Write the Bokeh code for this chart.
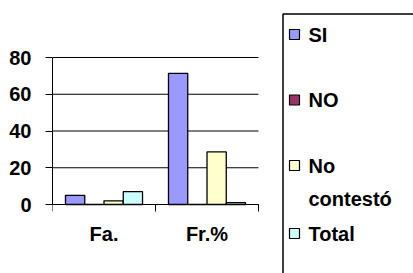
import numpy as np
from bokeh.plotting import figure
from bokeh.models import Range1d, FixedTicker
from bokeh.core.properties import value
from bokeh.embed import file_html
from bokeh.resources import INLINE

# ---- data ----
categories = ["Fa.", "Fr.%"]
series_names = ["SI", "NO", "No contestó", "Total"]
si_values = [5, 71.4]
no_values = [0, 0]
nc_values = [2, 28.6]
total_values = [7, 1]
series_colors = ["#9999FF", "#993366", "#FFFFCC", "#CCFFFF"]
y_ticks = [0, 20, 40, 60, 80]
y_max = 80

FONT = "Liberation Sans"
FS = "20px"

# ---- layout (pixels) ----
W, H = 413, 273
AX_L, AX_B = 52, 204          # y-axis x position, x-axis y position
CAT_PX = 103                  # pixels per category
PX_PER_UNIT = 147 / y_max     # vertical pixels per value unit
TOP = 11

def dx(px):
    return (px - AX_L) / CAT_PX

def dy(py):
    return (AX_B - py) / PX_PER_UNIT

p = figure(width=W, height=H, output_backend="svg", toolbar_location=None,
           x_range=Range1d(0, dx(W)), y_range=Range1d(dy(H), dy(TOP)),
           min_border_left=AX_L, min_border_right=0, min_border_top=TOP,
           min_border_bottom=0)
p.outline_line_color = None
p.grid.grid_line_color = None

n_cat = len(categories)
# horizontal grid lines limited to the category area
p.segment(x0=[0] * len(y_ticks), x1=[n_cat] * len(y_ticks), y0=y_ticks,
          y1=y_ticks, line_color="black", line_width=1)

all_values = [si_values, no_values, nc_values, total_values]
bw = 0.187
offsets = (np.arange(len(series_names)) - 1.5) * bw
base_x = np.arange(n_cat) + 0.5
for vals, col, off in zip(all_values, series_colors, offsets):
    p.vbar(x=base_x + off, top=vals, bottom=0, width=bw, fill_color=col,
           line_color="black", line_width=1.3)

# y axis
p.yaxis.ticker = FixedTicker(ticks=y_ticks)
p.yaxis.bounds = (0, y_max)
p.yaxis.major_tick_out = 7
p.yaxis.major_tick_in = 0
p.yaxis.minor_tick_line_color = None
p.yaxis.axis_line_color = "black"
p.yaxis.major_label_text_font = FONT
p.yaxis.major_label_text_font_style = "bold"
p.yaxis.major_label_text_font_size = FS
p.yaxis.major_label_text_color = "black"
p.yaxis.major_label_standoff = 14

# x axis at value 0, tick marks at category boundaries (labels drawn below)
p.xaxis.fixed_location = 0
p.xaxis.ticker = FixedTicker(ticks=[], minor_ticks=list(range(n_cat + 1)))
p.xaxis.bounds = (0, n_cat)
p.xaxis.major_tick_out = 0
p.xaxis.major_tick_in = 0
p.xaxis.minor_tick_out = 7
p.xaxis.minor_tick_in = 0
p.xaxis.minor_tick_line_color = "black"
p.xaxis.axis_line_color = "black"
p.xaxis.major_label_standoff = 0

# category labels
p.text(x=base_x, y=[dy(233)] * n_cat, text=categories, text_baseline="middle",
       text_align="center", text_font=value(FONT), text_font_style="bold",
       text_font_size=FS, text_color="black")

# ---- legend, placed in pixel terms ----
box_l, box_t = 282.5, 13.5
p.line(x=[dx(box_l), dx(box_l), dx(W + 5)], y=[dy(H + 5), dy(box_t), dy(box_t)],
       line_color="black", line_width=1.5)

item_py = [34, 99.5, 165, 233]
sw_cx, sw_size, text_px = 294, 10, 308
p.rect(x=[dx(sw_cx)] * 4, y=[dy(v) for v in item_py],
       width=sw_size / CAT_PX, height=sw_size / PX_PER_UNIT,
       fill_color=series_colors, line_color="black", line_width=1.2)
first_lines = [n.split(" ")[0] for n in series_names]
p.text(x=[dx(text_px)] * 4, y=[dy(v) for v in item_py], text=first_lines,
       text_baseline="middle", text_align="left", text_font=value(FONT),
       text_font_style="bold", text_font_size=FS, text_color="black")
p.text(x=[dx(text_px)], y=[dy(198)], text=[series_names[2].split(" ", 1)[1]],
       text_baseline="alphabetic", text_align="left", text_font=value(FONT),
       text_font_style="bold", text_font_size=FS, text_color="black")

open("out.html", "w").write(file_html(p, INLINE))
